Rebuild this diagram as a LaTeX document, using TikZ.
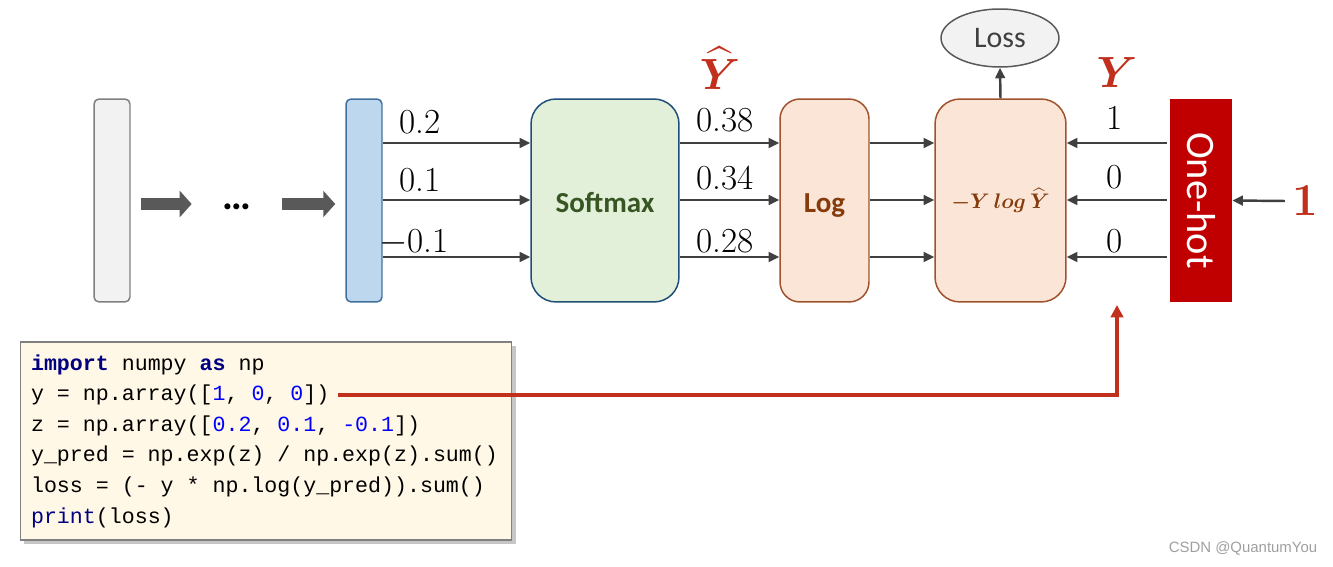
\documentclass[tikz,border=0pt]{standalone}
\usepackage{fontspec}
\usepackage{amsmath}
\usepackage{graphicx}
\usetikzlibrary{arrows.meta,shapes.geometric,shadows}
\newfontfamily\carlito{Carlito}
\newfontfamily\codefont{Liberation Mono}
\newfontfamily\markfont{Liberation Sans}

\definecolor{linegray}{HTML}{404040}
\definecolor{blockgray}{HTML}{595959}
\definecolor{bargray}{HTML}{F2F2F2}
\definecolor{barblue}{HTML}{BDD7EE}
\definecolor{edgeblue}{HTML}{41719C}
\definecolor{softgreen}{HTML}{E2F0D9}
\definecolor{softedge}{HTML}{1F4E79}
\definecolor{softtext}{HTML}{375623}
\definecolor{peach}{HTML}{FBE5D6}
\definecolor{logedge}{HTML}{A0522D}
\definecolor{logbrown}{HTML}{843C0C}
\definecolor{hotred}{HTML}{C00000}
\definecolor{labelred}{HTML}{C0301C}
\definecolor{codebg}{HTML}{FFF8E6}
\definecolor{kwnavy}{HTML}{000080}
\definecolor{numblue}{HTML}{0000FF}

\tikzset{
  layer/.style={rectangle, rounded corners=0.1cm, minimum width=0.72cm, minimum height=4.06cm, line width=0.85pt},
  opbox/.style={rectangle, rounded corners=0.5cm, minimum height=4.06cm, line width=0.85pt, inner sep=0pt},
  flow/.style={draw=linegray, line width=1.4pt, -{Triangle[length=6pt,width=5.5pt]}},
  blockarrow/.style={draw=blockgray, line width=0.24cm, -{Triangle[length=0.24cm,width=0.52cm]}},
  num/.style={font=\fontsize{20}{24}\selectfont, inner sep=1pt},
  redlbl/.style={text=labelred, font=\fontsize{23}{26}\selectfont, inner sep=1pt},
  yline/.style={draw=labelred, line width=2pt, -{Triangle[length=7pt,width=7pt]}},
  codebox/.style={draw=gray, fill=codebg, line width=0.6pt, minimum width=9.84cm, minimum height=3.96cm,
    text width=9.4cm, align=left, inner xsep=0.22cm,
    font=\codefont\fontsize{12.3}{17.4}\selectfont,
    drop shadow={shadow xshift=2.5pt, shadow yshift=-2.5pt, opacity=0.45}}
}

\begin{document}
\begin{tikzpicture}[x=0.02cm, y=-0.02cm]
\useasboundingbox (0,0) rectangle (1333,567);

% rows of the three values
\coordinate (r1) at (0,143);
\coordinate (r2) at (0,200);
\coordinate (r3) at (0,257);

% layers before the softmax
\node[layer, draw=gray, fill=bargray] (inbar) at (112,200.5) {};
\node[minimum width=1.8cm, inner sep=0pt, font=\carlito\bfseries\fontsize{23}{26}\selectfont] (dots) at (237,207) {…};
\node[layer, draw=edgeblue, fill=barblue] (zbar) at (364,200.5) {};
\draw[blockarrow, shorten <=0.2cm] (inbar.east |- 0,204) -- (dots.west |- 0,204);
\draw[blockarrow, shorten >=0.2cm] (dots.east |- 0,204) -- (zbar.west |- 0,204);

% operations
\node[opbox, draw=softedge, fill=softgreen, minimum width=2.96cm, text=softtext, text height=13.4pt, text depth=0pt,
  font=\carlito\bfseries\fontsize{16.5}{20}\selectfont] (soft) at (605,200.5) {Softmax};
\node[opbox, rounded corners=0.4cm, draw=logedge, fill=peach, minimum width=1.78cm, text=logbrown, text height=13.4pt, text depth=0pt,
  font=\carlito\bfseries\fontsize{16.5}{20}\selectfont] (logb) at (824.5,200.5) {Log};
\node[opbox, draw=logedge, fill=peach, minimum width=2.62cm, text=logbrown,
  font=\fontsize{12.5}{15}\selectfont] (ce) at (1000.5,200.5) {$\boldsymbol{-Y\mkern3mu log\mkern3mu\widehat{Y}}$};
\node[ellipse, draw=blockgray, fill=bargray, line width=0.85pt, minimum width=2.36cm, minimum height=1.16cm,
  text=linegray, font=\carlito\fontsize{17}{20}\selectfont] (loss) at (1000,38) {Loss};
\node[fill=hotred, minimum width=1.24cm, minimum height=4.06cm, inner sep=0pt, text=white,
  font=\carlito\fontsize{23}{26}\selectfont] (onehot) at (1201,200.5) {\rotatebox{-90}{One-hot}};

% connectors
\foreach \r in {r1,r2,r3} {
  \draw[flow] (zbar.east |- \r) -- (soft.west |- \r);
  \draw[flow] (soft.east |- \r) -- (logb.west |- \r);
  \draw[flow] (logb.east |- \r) -- (ce.west |- \r);
  \draw[flow, shorten <=0.06cm] (onehot.west |- \r) -- (ce.east |- \r);
}
\draw[flow] (ce.north) -- (loss.south);

% values
\node[num] (z1) at (420,122) {0.2};
\node[num] (z2) at (420,180) {0.1};
\node[num] (z3) at (414,242) {$-$0.1};
\node[num] (p1) at (725,120) {0.38};
\node[num] (p2) at (725,178) {0.34};
\node[num] (p3) at (725,241) {0.28};
\node[num] (t1) at (1115,118) {1};
\node[num] (t2) at (1115,177) {0};
\node[num] (t3) at (1115,241) {0};
\node[redlbl] (yhat) at (720,68) {$\boldsymbol{\widehat{Y}}$};
\node[redlbl] (ytrue) at (1117,73) {$\boldsymbol{Y}$};
\node[redlbl, font=\bfseries\fontsize{26}{30}\selectfont, inner xsep=4pt] (one) at (1305,201) {1};
\draw[flow] (one.west) -- (onehot.east);

% code
\node[codebox] (code) at (266,441) {\spaceskip=0.6em\relax
{\color{kwnavy}\bfseries import} numpy {\color{kwnavy}\bfseries as} np\\
y = np.array([{\color{numblue}1}, {\color{numblue}0}, {\color{numblue}0}])\\
z = np.array([{\color{numblue}0.2}, {\color{numblue}0.1}, {\color{numblue}-0.1}])\\
y\_pred = np.exp(z) / np.exp(z).sum()\\
loss = (- y * np.log(y\_pred)).sum()\\
{\color{kwnavy}print}(loss)};
\coordinate (ystart) at (338,395);
\coordinate (yend) at (1117,305);
\draw[yline] (ystart) -| (yend);

\node[text=gray!75, font=\markfont\fontsize{8.5}{10}\selectfont] (mark) at (1243,549) {CSDN @QuantumYou};
\end{tikzpicture}
\end{document}
